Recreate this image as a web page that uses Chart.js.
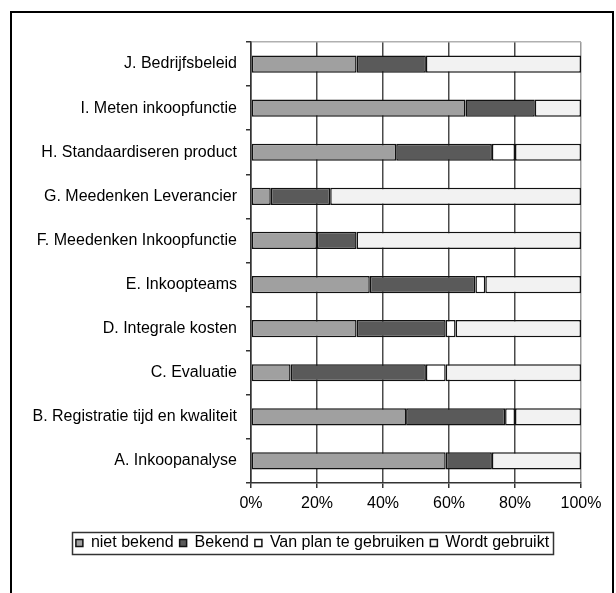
<!DOCTYPE html>
<html>
<head>
<meta charset="utf-8">
<script src="https://cdn.jsdelivr.net/npm/chart.js@4/dist/chart.umd.min.js"></script>
<style>
  html, body { margin: 0; padding: 0; background: #fff; }
  #wrap { position: relative; width: 616px; height: 593px; overflow: hidden; }
  #frame { position: absolute; left: 10px; top: 11px; width: 600px; height: 700px; border: 2px solid #000; }
  #c { position: absolute; left: 0; top: 0; }
</style>
</head>
<body>
<div id="wrap">
  <div id="frame"></div>
  <canvas id="c" width="616" height="593"></canvas>
</div>
<script>
// Onderdelen van het inkoopbeleid, van boven naar beneden
const categories = [
  'J. Bedrijfsbeleid',
  'I. Meten inkoopfunctie',
  'H. Standaardiseren product',
  'G. Meedenken Leverancier',
  'F. Meedenken Inkoopfunctie',
  'E. Inkoopteams',
  'D. Integrale kosten',
  'C. Evaluatie',
  'B. Registratie tijd en kwaliteit',
  'A. Inkoopanalyse'
];

// Aandeel per status (%)
const nietBekend    = [32, 65, 44,  6, 20, 36, 32, 12, 47, 59];
const bekend        = [21, 21, 29, 18, 12, 32, 27, 41, 30, 14];
const vanPlan       = [ 0,  0,  7,  0,  0,  3,  3,  6,  3,  0];
const wordtGebruikt = [47, 14, 20, 76, 68, 29, 38, 41, 20, 27];

const seriesNames = ['niet bekend', 'Bekend', 'Van plan te gebruiken', 'Wordt gebruikt'];
const xTicks = [0, 20, 40, 60, 80, 100];

const FONT = "'Liberation Sans', Arial, sans-serif";
const LEGEND_SHIFT = 22;

const makeSet = (label, data, color) => ({
  label, data,
  backgroundColor: color,
  borderColor: '#111',
  borderWidth: 1.5,
  borderSkipped: false,
  barPercentage: 0.39,
  categoryPercentage: 1
});

// Legenda iets naar rechts, gecentreerd onder de hele figuur
const legendShift = {
  id: 'legendShift',
  afterLayout(chart) {
    const lg = chart.legend;
    if (!lg) return;
    lg.left += LEGEND_SHIFT;
    lg.right += LEGEND_SHIFT;
  }
};

// Kader rond de legenda
const legendBox = {
  id: 'legendBox',
  afterDraw(chart) {
    const hb = chart.legend && chart.legend.legendHitBoxes;
    if (!hb || !hb.length) return;
    const left = Math.min(...hb.map(b => b.left)) - 4;
    const right = Math.max(...hb.map(b => b.left + b.width)) + 4;
    const top = Math.min(...hb.map(b => b.top)) - 3;
    const bottom = Math.max(...hb.map(b => b.top + b.height)) + 3;
    const ctx = chart.ctx;
    ctx.save();
    ctx.strokeStyle = '#333';
    ctx.lineWidth = 1.5;
    ctx.strokeRect(Math.round(left) + 0.5, Math.round(top) + 0.5, Math.round(right - left), Math.round(bottom - top));
    ctx.restore();
  }
};

new Chart(document.getElementById('c'), {
  type: 'bar',
  data: {
    labels: categories,
    datasets: [
      makeSet(seriesNames[0], nietBekend, '#a0a0a0'),
      makeSet(seriesNames[1], bekend, '#5a5a5a'),
      makeSet(seriesNames[2], vanPlan, '#ffffff'),
      makeSet(seriesNames[3], wordtGebruikt, '#f2f2f2')
    ]
  },
  options: {
    indexAxis: 'y',
    responsive: false,
    animation: false,
    devicePixelRatio: 1,
    layout: { padding: { top: 42, right: 35, bottom: 32, left: 0 } },
    plugins: {
      legend: {
        position: 'bottom',
        labels: {
          boxWidth: 7,
          boxHeight: 7,
          padding: 6,
          color: '#000',
          font: { family: FONT, size: 16 }
        }
      },
      tooltip: { enabled: false }
    },
    scales: {
      x: {
        stacked: true,
        min: 0,
        max: 100,
        afterBuildTicks(scale) { scale.ticks = xTicks.map(v => ({ value: v })); },
        afterFit(scale) { scale.height = 46; },
        ticks: {
          callback: v => v + '%',
          color: '#000',
          padding: 6,
          maxRotation: 0,
          font: { family: FONT, size: 16 }
        },
        grid: {
          color: ctx => (ctx.tick && ctx.tick.value === 100 ? '#9a9a9a' : '#4a4a4a'),
          lineWidth: 1.5,
          tickLength: 5,
          tickColor: '#333'
        },
        border: { color: '#333', width: 1.5 }
      },
      y: {
        stacked: true,
        afterFit(scale) { scale.width = 251; },
        ticks: {
          color: '#000',
          padding: 9,
          font: { family: FONT, size: 16 }
        },
        grid: {
          offset: true,
          color: ctx => (ctx.index === 0 ? '#b0b0b0' : 'rgba(0,0,0,0)'),
          lineWidth: 1.5,
          tickLength: 5,
          tickColor: '#333'
        },
        border: { color: '#333', width: 1.5 }
      }
    }
  },
  plugins: [legendShift, legendBox]
});
</script>
</body>
</html>
